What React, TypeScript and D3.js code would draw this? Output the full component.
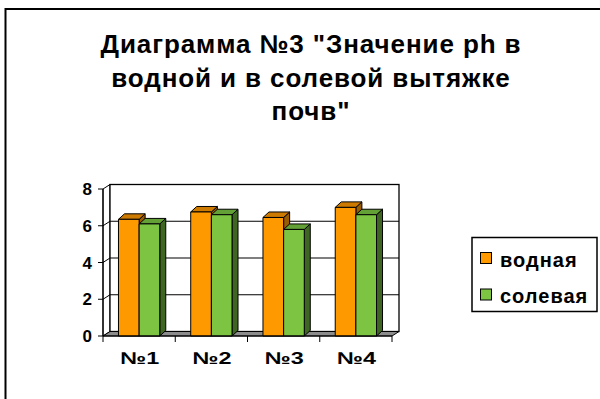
import React from 'react';
import * as d3 from 'd3';

// chart data
const categories = ['№1', '№2', '№3', '№4'];
const seriesNames = ['водная', 'солевая'];
const vodnaya = [6.35, 6.75, 6.45, 7.0];
const solevaya = [6.1, 6.6, 5.8, 6.6];
const yTicks = [0, 2, 4, 6, 8];
const titleLines = ['Диаграмма №3 "Значение ph в', 'водной и в солевой вытяжке', 'почв"'];

const App: React.FC = () => {
  const width = 600;
  const height = 399;

  // ===== styling =====
  const font = 'Liberation Sans, Arial, sans-serif';
  const frontFill = ['#FF9900', '#7DC443'];
  const topFill = ['#CC7A00', '#63A035'];
  const sideFill = ['#995C00', '#3E6622'];
  const wallDx = 7;          // depth of walls
  const wallDy = -4.5;
  const barDx = 6;           // depth of bars
  const barDy = -5.5;
  // ===================

  const x0 = d3.scaleBand<string>().domain(categories).range([103, 392]).paddingInner(0).paddingOuter(0);
  const x1 = d3.scaleBand<string>().domain(seriesNames).range([0, x0.bandwidth()]).paddingInner(0).paddingOuter(0.75);
  const y = d3.scaleLinear().domain([0, 8]).range([336, 189]);

  const values = [vodnaya, solevaya];
  const [xl, xr] = x0.range();
  const y0 = y(0);
  const yTop = y(8);

  const poly = (pts: [number, number][]) => d3.line()(pts.concat([pts[0]])) || '';

  return (
    <svg width={width} height={height} style={{ position: 'absolute', left: 0, top: 0, background: '#fff' }}>
      {/* outer border */}
      <path d={`M5.5,${height} V9 H${width}`} fill="none" stroke="#000" strokeWidth={2} />

      {/* title */}
      {titleLines.map((t, i) => (
        <text key={i} x={311} y={53 + i * 33.5} textAnchor="middle" fontFamily={font}
          fontWeight="bold" fontSize={26} letterSpacing={0.9} fill="#000">{t}</text>
      ))}

      {/* side wall */}
      <path d={poly([[xl, y0], [xl, yTop], [xl + wallDx, yTop + wallDy], [xl + wallDx, y0 + wallDy]])}
        fill="#fff" stroke="#000" strokeWidth={1} />
      {/* back wall */}
      <rect x={xl + wallDx} y={yTop + wallDy} width={xr - xl} height={y0 - yTop}
        fill="#fff" stroke="#000" strokeWidth={1.3} />
      {/* grid lines */}
      {yTicks.filter(v => v > 0 && v < 8).map(v => (
        <g key={v}>
          <line x1={xl} y1={y(v)} x2={xl + wallDx} y2={y(v) + wallDy} stroke="#000" strokeWidth={1} />
          <line x1={xl + wallDx} y1={y(v) + wallDy} x2={xr + wallDx} y2={y(v) + wallDy} stroke="#000" strokeWidth={1.2} />
        </g>
      ))}
      {/* floor */}
      <path d={poly([[xl, y0], [xr, y0], [xr + wallDx, y0 + wallDy], [xl + wallDx, y0 + wallDy]])}
        fill="#8c8c8c" stroke="#000" strokeWidth={1} />

      {/* bars */}
      {categories.map((c, ci) => (
        <g key={c}>
          {seriesNames.map((s, si) => {
            const bx = (x0(c) || 0) + (x1(s) || 0);
            const bw = x1.bandwidth();
            const by = y(values[si][ci]);
            return (
              <g key={s} stroke="#000" strokeWidth={1} strokeLinejoin="round">
                <path d={poly([[bx + bw, by], [bx + bw + barDx, by + barDy], [bx + bw + barDx, y0 + barDy], [bx + bw, y0]])}
                  fill={sideFill[si]} />
                <path d={poly([[bx, by], [bx + barDx, by + barDy], [bx + bw + barDx, by + barDy], [bx + bw, by]])}
                  fill={topFill[si]} />
                <rect x={bx} y={by} width={bw} height={y0 - by} fill={frontFill[si]} />
              </g>
            );
          })}
        </g>
      ))}

      {/* y axis */}
      <line x1={xl} y1={yTop} x2={xl} y2={y0} stroke="#000" strokeWidth={1.2} />
      {yTicks.map(v => (
        <g key={v}>
          <line x1={xl - 5} y1={y(v)} x2={xl} y2={y(v)} stroke="#000" strokeWidth={1} />
          <text x={92} y={y(v) + 6} textAnchor="end" fontFamily={font} fontWeight="bold"
            fontSize={17} fill="#000">{v}</text>
        </g>
      ))}

      {/* x axis */}
      <line x1={xl} y1={y0} x2={xr} y2={y0} stroke="#000" strokeWidth={1.2} />
      {[...categories.map(c => x0(c) || 0), xr].map((t, i) => (
        <line key={i} x1={t} y1={y0} x2={t} y2={y0 + 6} stroke="#000" strokeWidth={1} />
      ))}
      {categories.map(c => (
        <text key={c} x={(x0(c) || 0) + x0.bandwidth() / 2 - 19} y={364}
          fontFamily={font} fontWeight="bold" fontSize={17} textLength={39}
          lengthAdjust="spacingAndGlyphs" fill="#000">{c}</text>
      ))}

      {/* legend */}
      <rect x={472} y={237.5} width={125} height={74} fill="#fff" stroke="#000" strokeWidth={1.5} />
      {seriesNames.map((s, i) => (
        <g key={s}>
          <rect x={480.5} y={252.5 + i * 36.5} width={11} height={11} fill={frontFill[i]} stroke="#000" strokeWidth={1} />
          <text x={500} y={267 + i * 36} fontFamily={font} fontWeight="bold" fontSize={20}
            letterSpacing={1} fill="#000">{s}</text>
        </g>
      ))}
    </svg>
  );
};

export default App;
